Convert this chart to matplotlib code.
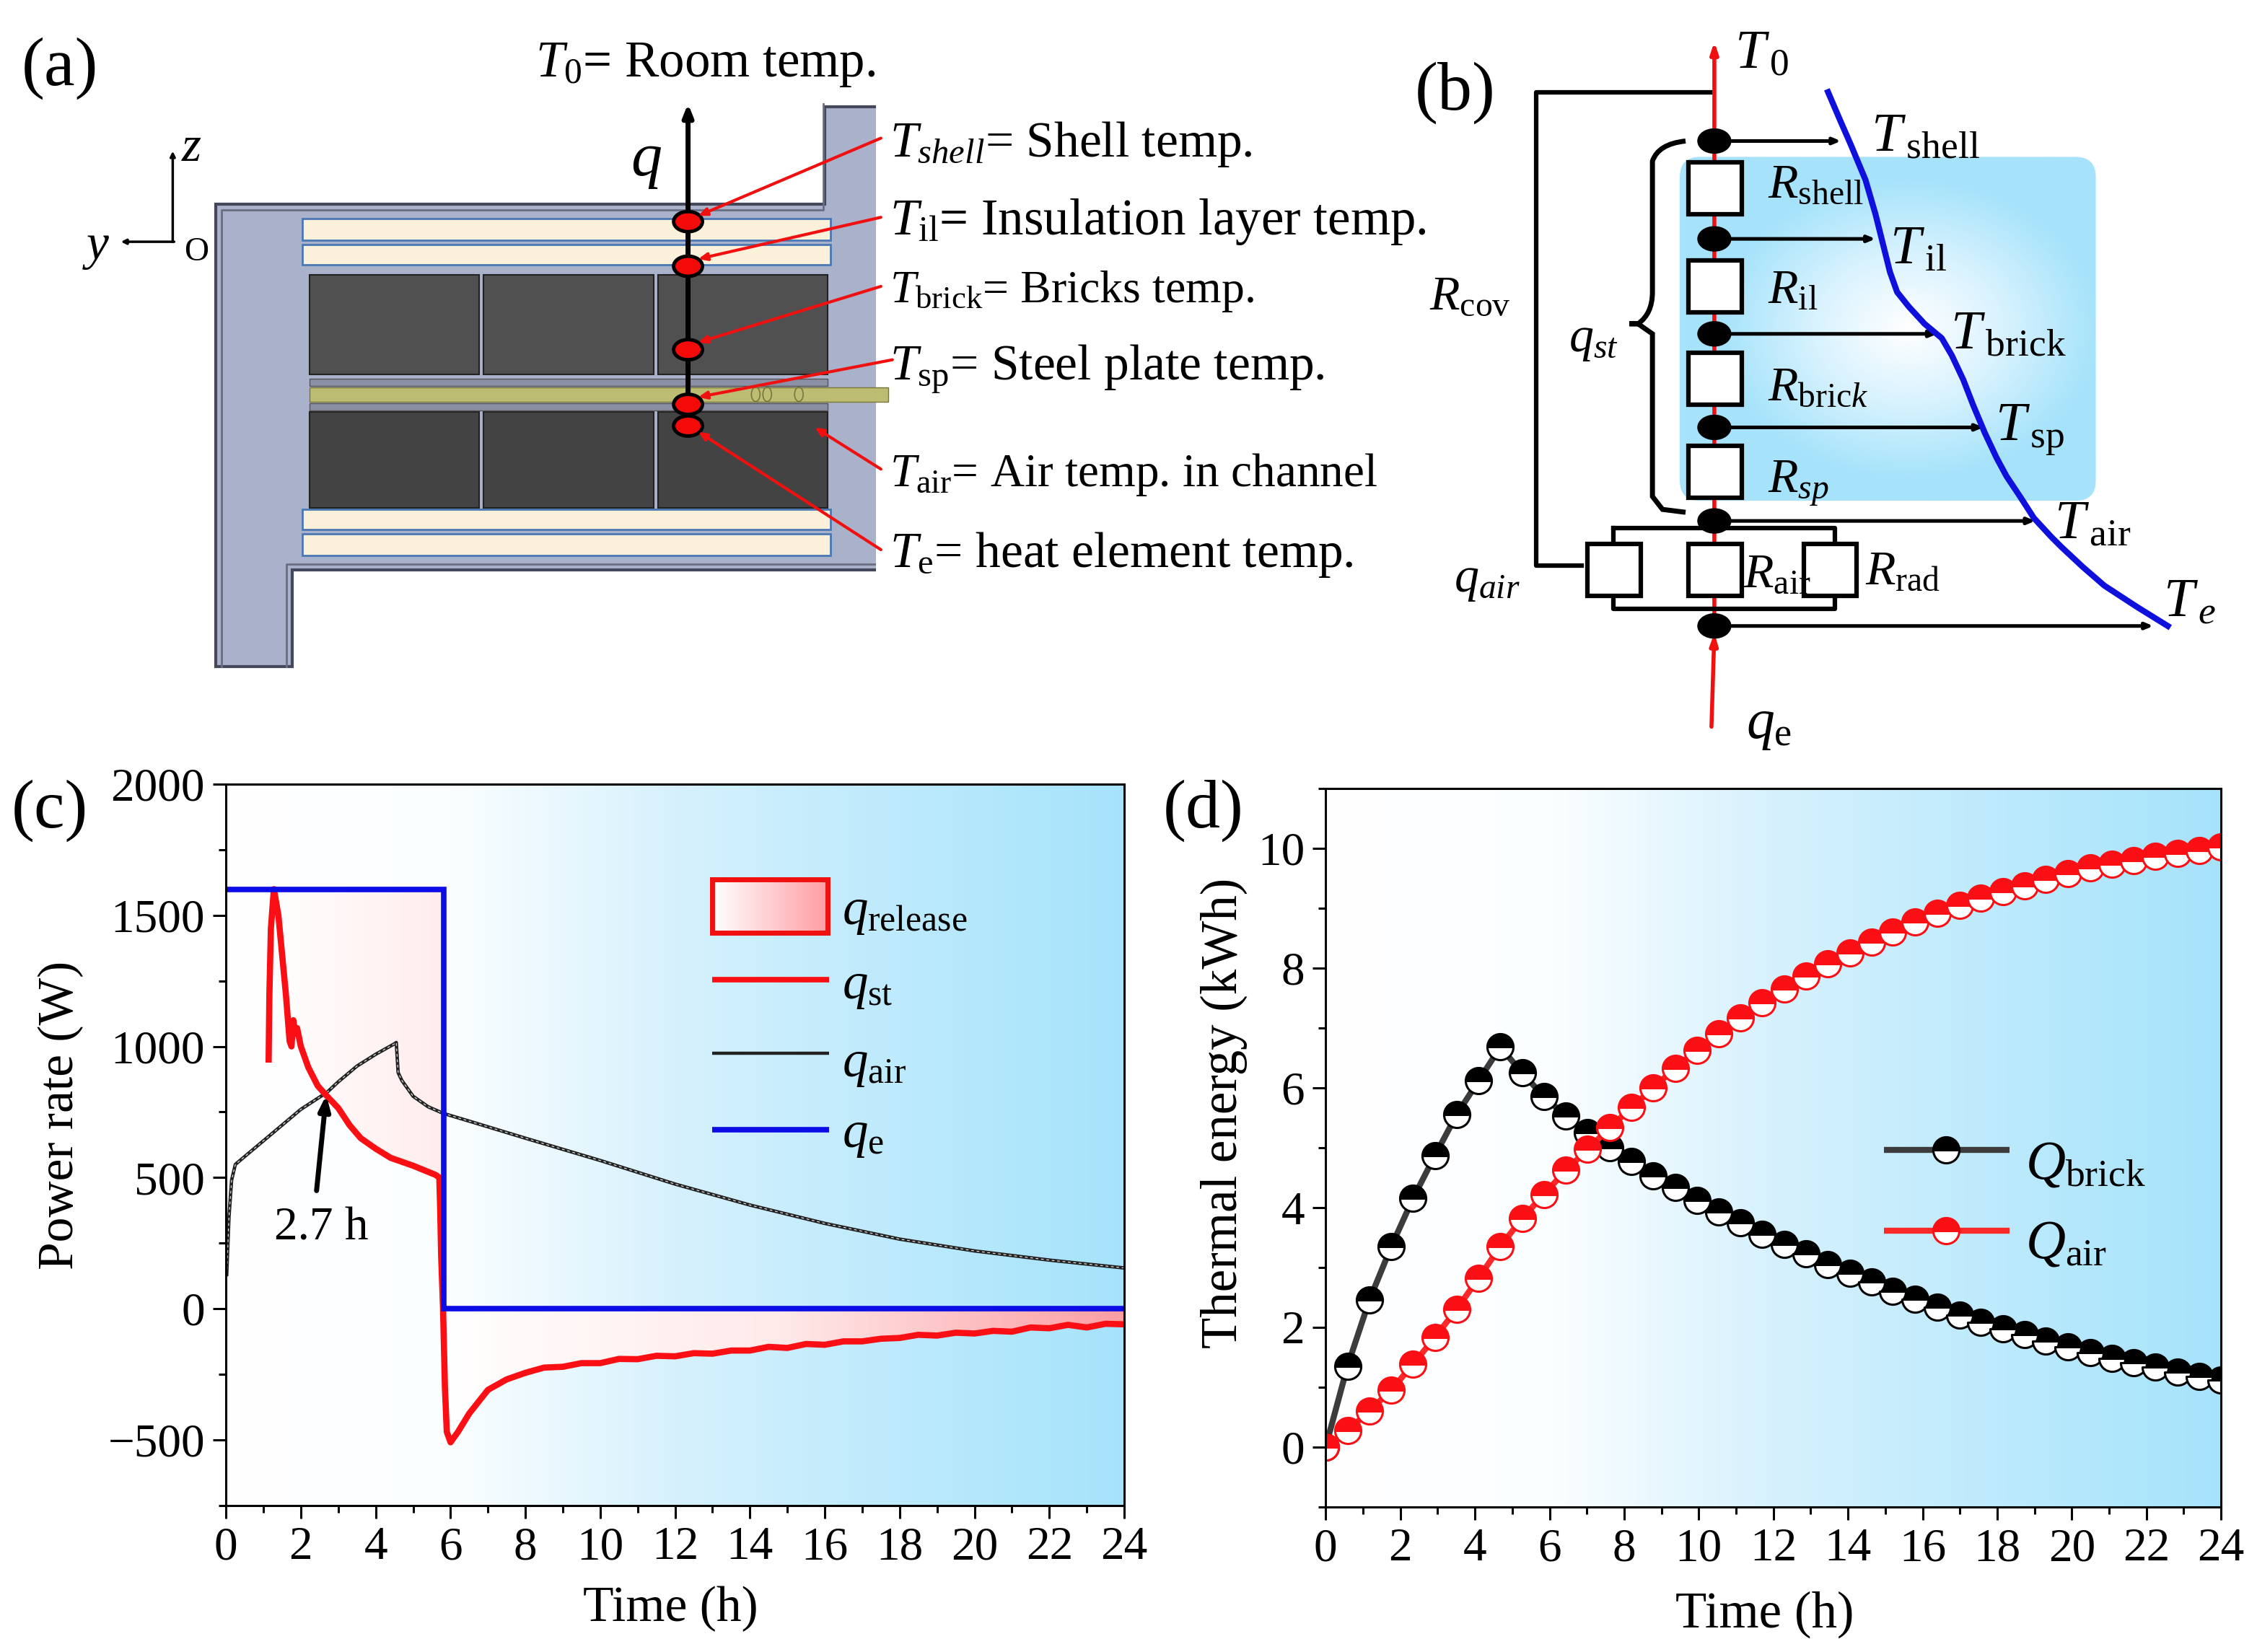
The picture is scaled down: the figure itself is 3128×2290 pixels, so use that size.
"""
Figura de cuatro paneles: esquema del equipo, red de resistencias y dos curvas vs tiempo.
"""
import matplotlib
matplotlib.use("Agg")
import numpy as np
import matplotlib.pyplot as plt
from matplotlib.colors import LinearSegmentedColormap
from matplotlib.patches import Rectangle, Polygon, Ellipse, FancyBboxPatch, PathPatch
from matplotlib.path import Path

plt.rcParams["font.family"] = ["Liberation Serif", "DejaVu Serif"]
plt.rcParams["mathtext.fontset"] = "custom"
plt.rcParams["mathtext.rm"] = "Liberation Serif"
plt.rcParams["mathtext.it"] = "Liberation Serif:italic"
plt.rcParams["mathtext.bf"] = "Liberation Serif:bold"

# ---- panel (c)
t_e = [0, 5.82, 5.82, 24]
q_e = [1600, 1600, 0, 0]
t_st = [1.14, 1.16, 1.2, 1.28, 1.4, 1.5, 1.6, 1.7, 1.75, 1.8, 1.85, 1.9, 2.0, 2.2, 2.45, 2.7, 3.0,
        3.3, 3.6, 4.0, 4.4, 5.0, 5.6, 5.7, 5.72, 5.75, 5.8, 5.85, 5.9, 6.0, 6.2, 6.5, 7.0, 7.5, 8,
        8.5, 9, 9.5, 10, 10.5, 11, 11.5, 12, 12.5, 13, 13.5, 14, 14.5, 15, 15.5, 16, 16.5, 17, 17.5,
        18, 18.5, 19, 19.5, 20, 20.5, 21, 21.5, 22, 22.5, 23, 23.5, 24]
q_st = [950, 1200, 1450, 1600, 1500, 1350, 1200, 1020, 1000, 1100, 1050, 1070, 1000, 920, 850, 810, 765,
        700, 650, 610, 575, 545, 510, 500, 400, 200, 0, -300, -470, -510, -470, -400, -310, -270, -245,
        -225, -222, -208, -208, -192, -193, -180, -182, -170, -172, -160, -160, -146, -150, -135, -138, -125,
        -125, -115, -112, -100, -103, -92, -95, -85, -88, -72, -75, -62, -72, -58, -60]
t_air = [0.02, 0.08, 0.15, 0.25, 0.5, 1, 2, 2.7, 3, 3.5, 4, 4.5, 4.55, 4.6, 4.7, 5, 5.4, 5.8,
         6.5, 8, 10, 12, 14, 16, 18, 20, 22, 24]
q_air = [130, 350, 490, 550, 580, 640, 760, 825, 865, 925, 970, 1010, 1015, 900, 870, 810, 770, 745,
         715, 650, 565, 475, 395, 325, 265, 220, 185, 155]

# ---- panel (d)
t_q = [0, 0.585, 1.17, 1.76, 2.34, 2.93, 3.51, 4.1, 4.68, 5.27, 5.85, 6.44, 7.02, 7.61, 8.2, 8.78,
       9.37, 9.95, 10.54, 11.12, 11.7, 12.3, 12.88, 13.46, 14.05, 14.63, 15.2, 15.8, 16.4, 17.0,
       17.56, 18.15, 18.73, 19.3, 19.9, 20.5, 21.07, 21.66, 22.24, 22.83, 23.41, 24]
Q_brick = [0, 1.35, 2.45, 3.35, 4.15, 4.87, 5.55, 6.12, 6.68, 6.25, 5.85, 5.53, 5.25, 5.0, 4.77, 4.53,
           4.33, 4.12, 3.93, 3.75, 3.55, 3.38, 3.22, 3.05, 2.9, 2.75, 2.6, 2.47, 2.33, 2.2,
           2.08, 1.97, 1.87, 1.77, 1.67, 1.57, 1.48, 1.4, 1.33, 1.25, 1.18, 1.12]
Q_air = [0, 0.27, 0.6, 0.95, 1.38, 1.83, 2.3, 2.82, 3.35, 3.82, 4.22, 4.62, 4.97, 5.33, 5.67, 6.0,
         6.33, 6.63, 6.9, 7.17, 7.42, 7.65, 7.87, 8.07, 8.25, 8.43, 8.6, 8.77, 8.92, 9.05,
         9.17, 9.28, 9.38, 9.48, 9.58, 9.67, 9.73, 9.8, 9.87, 9.92, 9.97, 10.03]

# ---- panel (a): geometria del esquema, en px de la imagen a media escala
housing = [(150, 142), (573, 142), (573, 74), (612, 74), (612, 396), (203, 396), (203, 463), (150, 463)]
insul_rects = [(210, 152, 367, 15), (210, 170, 367, 14), (210, 354, 367, 14), (210, 371, 367, 15)]
brick_rects = [(215, 191, 118, 69), (336, 191, 118, 69), (457, 191, 118, 69),
               (215, 286, 118, 67), (336, 286, 118, 67), (457, 286, 118, 67)]
dots_a = [154, 185, 243, 281, 296]
red_arrows = [((612, 96), (485, 150)), ((612, 151), (485, 180)), ((612, 199), (485, 238)),
              ((620, 250), (485, 276)), ((612, 326), (566, 297)), ((612, 382), (485, 300))]
labels_a = [(372, 53, r"$T_{0}$= Room temp."),
            (618, 109, r"$T_{shell}$= Shell temp."),
            (618, 163, r"$T_{\mathrm{il}}$= Insulation layer temp."),
            (618, 210, r"$T_{\mathrm{brick}}$= Bricks temp."),
            (618, 264, r"$T_{\mathrm{sp}}$= Steel plate temp."),
            (618, 338, r"$T_{\mathrm{air}}$= Air temp. in channel"),
            (618, 394, r"$T_{\mathrm{e}}$= heat element temp.")]
sizes_a = [51, 50, 51, 46, 50, 47, 50]

# ---- panel (b)
node_y = [98, 166, 232, 297, 362, 435]
arrow_end = [1279, 1303, 1346, 1378, 1414, 1496]
res_boxes = [(1173, 113), (1173, 181), (1173, 245), (1173, 310), (1103, 378), (1173, 378), (1253, 378)]
curve_x = [1270, 1279, 1286, 1296, 1303, 1308, 1313, 1318, 1326, 1337, 1349, 1356, 1364, 1371, 1379,
           1387, 1394, 1404, 1413, 1425, 1432, 1447, 1462, 1485, 1506]
curve_y = [64, 85, 101, 125, 149, 169, 189, 203, 213, 225, 235, 247, 264, 282, 301,
           318, 331, 346, 360, 373, 380, 394, 407, 422, 435]
labels_t = [(1205, 47, r"$T_{\,0}$"), (1300, 105, r"$T_{\,\mathrm{shell}}$"), (1313, 183, r"$T_{\,\mathrm{il}}$"),
            (1355, 242, r"$T_{\,\mathrm{brick}}$"), (1386, 306, r"$T_{\,\mathrm{sp}}$"),
            (1427, 374, r"$T_{\,\mathrm{air}}$"), (1503, 428, r"$T_{\,e}$")]
labels_b = [(1228, 137, r"$R_{\mathrm{shell}}$"), (1228, 211, r"$R_{\mathrm{il}}$"),
            (1228, 278, r"$R_{\mathrm{bric}k}$"), (1228, 342, r"$R_{sp}$"),
            (1211, 408, r"$R_{\mathrm{air}}$"), (1296, 406, r"$R_{\mathrm{rad}}$"),
            (1010, 411, r"$q_{air}$"), (1090, 244, r"$q_{st}$"), (993, 215, r"$R_{\mathrm{cov}}$")]
brace_verts = [(1171, 98), (1152, 100), (1148, 112), (1148, 125), (1148, 203), (1148, 218), (1138, 225), (1126, 225),
               (1138, 225), (1148, 232), (1148, 247), (1148, 325), (1148, 345), (1155, 354), (1171, 356)]

BG_BLUE = "#a6e3fb"
bg_cmap = LinearSegmentedColormap.from_list("bg", ["#ffffff", "#fbfeff", "#d6f1fd", "#bdeafc", BG_BLUE],)
FS_TICK = 47
FS_LABEL = 50
FS_DIAG = 49
W, H = 1568.0, 1148.0


def fondo(ax, xlim, ylim):
    grad = np.linspace(0, 1, 400).reshape(1, -1)
    ax.imshow(grad, cmap=bg_cmap, aspect="auto", extent=[xlim[0], xlim[1], ylim[0], ylim[1]], zorder=0)
    ax.set_xlim(xlim)
    ax.set_ylim(ylim)


def estilo(ax):
    ax.set_xticks(np.arange(0, 25, 2))
    ax.set_xticks(np.arange(0, 25, 1), minor=True)
    ax.tick_params(which="major", direction="out", length=13, width=2.2, labelsize=FS_TICK, pad=8)
    ax.tick_params(which="minor", direction="out", length=7, width=2.2)
    for s in ax.spines.values():
        s.set_linewidth(2.2)
        s.set_zorder(8)


fig = plt.figure(figsize=(31.28, 22.9), dpi=100)


def caja(x0, y0, x1, y1):
    return [x0 / W, 1 - y1 / H, (x1 - x0) / W, (y1 - y0) / H]


# ---- (c)
ax_c = fig.add_axes(caja(157, 545, 781, 1046))
fondo(ax_c, (0, 24), (-750, 2000))
pink_cmap = LinearSegmentedColormap.from_list("pink", ["#ffffff", "#ffe9e9", "#fd9ea3"])
t_fill = np.array(t_st)
q_fill = np.array(q_st)

# relleno q_release, por encima (hasta q_e) y por debajo (hasta 0)
sup = t_fill <= 5.8
verts_up = list(zip(t_fill[sup], q_fill[sup])) + [(5.82, 1600), (1.28, 1600)]
inf = t_fill >= 5.8
verts_dn = list(zip(t_fill[inf], q_fill[inf])) + [(24, 0), (5.82, 0)]
grad_up = np.linspace(0, 0.42, 100).reshape(1, -1)
img = ax_c.imshow(grad_up, cmap=pink_cmap, vmin=0, vmax=1, aspect="auto", extent=[1.14, 5.82, -750, 2000], zorder=1)
pol = Polygon(verts_up, closed=True, transform=ax_c.transData, fc="none", ec="none")
ax_c.add_patch(pol)
img.set_clip_path(pol)
grad_dn = np.linspace(0, 1, 200).reshape(1, -1)
img = ax_c.imshow(grad_dn, cmap=pink_cmap, vmin=0, vmax=1, aspect="auto", extent=[5.82, 24, -750, 2000], zorder=1)
pol = Polygon(verts_dn, closed=True, transform=ax_c.transData, fc="none", ec="none")
ax_c.add_patch(pol)
img.set_clip_path(pol)
ax_c.set_xlim(0, 24)
ax_c.set_ylim(-750, 2000)

ax_c.plot(t_air, q_air, color="#222222", lw=3.4, zorder=3)
ax_c.plot(t_air, q_air, color="#dddddd", lw=0.9, zorder=3, ls=(0, (3, 3)))
ax_c.plot(t_st, q_st, color="#fa0f14", lw=6.2, zorder=4)
ax_c.plot(t_e, q_e, color="#0c0ce6", lw=5.5, zorder=5, solid_joinstyle="miter")
ax_c.annotate("", xy=(2.68, 815), xytext=(2.42, 450),
              arrowprops=dict(arrowstyle="-|>,head_length=1.2,head_width=0.45", color="black", lw=5, shrinkA=0, shrinkB=0),
              zorder=6)
ax_c.text(1.28, 262, "2.7 h", fontsize=FS_TICK, va="baseline", zorder=6)
ax_c.set_yticks([-500, 0, 500, 1000, 1500, 2000])
ax_c.set_yticks(np.arange(-750, 2001, 250), minor=True)
estilo(ax_c)
ax_c.set_xlabel("Time (h)", fontsize=FS_LABEL)
ax_c.xaxis.set_label_coords(0.495, -0.112)
ax_c.set_ylabel("Power rate (W)", fontsize=FS_LABEL)
ax_c.yaxis.set_label_coords(-0.158, 0.541)

# ---- (d)
ax_d = fig.add_axes(caja(921, 548, 1543, 1047))
fondo(ax_d, (0, 24), (-1, 11))
mk = dict(marker="o", ms=26, fillstyle="top", markerfacecoloralt="white", markeredgewidth=2.2)
ax_d.plot(t_q, Q_brick, color="#3c3c3c", lw=6, zorder=3)
ax_d.plot(t_q, Q_brick, ls="none", color="black", mfc="black", mec="black", zorder=4, **mk)
ax_d.plot(t_q, Q_air, color="#fa2a2a", lw=6, zorder=5)
ax_d.plot(t_q, Q_air, ls="none", color="#fa0f14", mfc="#fa0f14", mec="#fa0f14", zorder=6, **mk)
ax_d.set_yticks([0, 2, 4, 6, 8, 10])
ax_d.set_yticks(np.arange(-1, 12, 1), minor=True)
estilo(ax_d)
ax_d.set_xlabel("Time (h)", fontsize=FS_LABEL + 1)
ax_d.xaxis.set_label_coords(0.49, -0.118)
ax_d.set_ylabel("Thermal energy (kWh)", fontsize=51)
ax_d.yaxis.set_label_coords(-0.087, 0.548)

# ---- capa general en px para los esquemas y las leyendas
ov = fig.add_axes([0, 0, 1, 1], zorder=10)
ov.patch.set_alpha(0)
ov.axis("off")

# panel (a)
ov.add_patch(Polygon(housing, closed=True, fc="#aab1ca", ec="#45485a", lw=3, zorder=1))
ov.plot([572, 572, 154, 154], [72, 146, 146, 463], color="#6a6e82", lw=2, zorder=1)
ov.plot([199, 199, 612], [463, 392, 392], color="#6a6e82", lw=2, zorder=1)
for x, y, w, h in insul_rects:
    ov.add_patch(Rectangle((x, y), w, h, fc="#fbf0da", ec="#4a78b4", lw=2, zorder=2))
for i, (x, y, w, h) in enumerate(brick_rects):
    ov.add_patch(Rectangle((x, y), w, h, fc="#505050" if i < 3 else "#434343", ec="#222222", lw=1.5, zorder=2))
ov.add_patch(Rectangle((215, 263), 360, 5, fc="#8b90a4", ec="#555555", lw=1, zorder=2))
ov.add_patch(Rectangle((215, 280), 360, 5, fc="#8b90a4", ec="#555555", lw=1, zorder=2))
ov.add_patch(Rectangle((215, 269), 402, 10, fc="#bcbc72", ec="#77773c", lw=1, zorder=3))
for xc in [525, 533, 555]:
    ov.add_patch(Ellipse((xc, 274), 6, 10, fc="none", ec="#77773c", lw=1.2, zorder=3))
ov.plot([612, 612], [74, 396], color="white", lw=10, zorder=2)
ov.annotate("", xy=(478, 72), xytext=(478, 296),
            arrowprops=dict(arrowstyle="-|>,head_length=1.0,head_width=0.4", color="black", lw=5, shrinkA=0, shrinkB=0), zorder=4)
for y in dots_a:
    ov.add_patch(Ellipse((478, y), 20, 14, fc="#f50a0a", ec="black", lw=3.5, zorder=5))
for ini, fin in red_arrows:
    ov.annotate("", xy=fin, xytext=ini,
                arrowprops=dict(arrowstyle="-|>,head_length=0.7,head_width=0.3", color="#f01010", lw=3, shrinkA=0, shrinkB=0), zorder=6)
for (x, y, s), fs in zip(labels_a, sizes_a):
    ov.text(x, y, s, fontsize=fs, va="baseline", zorder=7)
ov.text(438, 122, r"$q$", fontsize=62, va="baseline", zorder=7)
ov.annotate("", xy=(120, 105), xytext=(120, 168), arrowprops=dict(arrowstyle="-|>", color="black", lw=2.5, shrinkA=0, shrinkB=0))
ov.annotate("", xy=(84, 168), xytext=(121, 168), arrowprops=dict(arrowstyle="-|>", color="black", lw=2.5, shrinkA=0, shrinkB=0))
ov.text(126, 112, r"$z$", fontsize=50, va="baseline")
ov.text(57, 180, r"$y$", fontsize=50, va="baseline")
ov.text(128, 181, "O", fontsize=34, va="baseline")
ov.text(15, 59, "(a)", fontsize=69, va="baseline")

# panel (b): fondo radial con esquinas redondeadas
yy, xx = np.mgrid[-1:1:200j, -1:1:300j]
rad = np.clip(np.hypot((xx - 0.1) * 1.1, yy * 1.15), 0, 1)
grad_b = ov.imshow(rad, cmap=LinearSegmentedColormap.from_list("rb", ["#ffffff", "#d8f2fe", BG_BLUE]),
                   extent=[1167, 1456, 348, 109], aspect="auto", zorder=1)
box = FancyBboxPatch((1175, 117), 273, 223, boxstyle="round,pad=8,rounding_size=14", fc="none", ec="none", zorder=1)
ov.add_patch(box)
grad_b.set_clip_path(box)

ov.annotate("", xy=(1191, 29), xytext=(1191, 440),
            arrowprops=dict(arrowstyle="-|>,head_length=0.9,head_width=0.3", color="#f01010", lw=4, shrinkA=0, shrinkB=0), zorder=2)
ov.annotate("", xy=(1191, 440), xytext=(1189, 505),
            arrowprops=dict(arrowstyle="-|>,head_length=0.9,head_width=0.3", color="#f01010", lw=4, shrinkA=0, shrinkB=0), zorder=2)
ov.plot([1188, 1067, 1067, 1099], [64, 64, 393, 393], color="black", lw=4.5, zorder=3)
ov.plot([1121, 1275, 1275, 1121, 1121], [367, 367, 423, 423, 367], color="black", lw=4.5, zorder=3)
for x, y in res_boxes:
    ov.add_patch(Rectangle((x, y), 37, 36, fc="white", ec="black", lw=4.5, zorder=4))
for y, xf in zip(node_y, arrow_end):
    ov.add_patch(Ellipse((1191, y), 23, 17, fc="black", ec="black", zorder=5))
    ov.annotate("", xy=(xf, y), xytext=(1195, y),
                arrowprops=dict(arrowstyle="-|>,head_length=0.6,head_width=0.25", color="black", lw=3.6, shrinkA=0, shrinkB=0), zorder=5)
ov.plot(curve_x, curve_y, color="#1010dd", lw=6, zorder=6)
codes = [Path.MOVETO] + [Path.CURVE3, Path.CURVE3] + [Path.LINETO] + [Path.LINETO] + [Path.CURVE3, Path.CURVE3] + \
        [Path.CURVE3, Path.CURVE3] + [Path.LINETO, Path.LINETO] + [Path.CURVE3, Path.CURVE3] + [Path.LINETO, Path.LINETO]
ov.add_patch(PathPatch(Path(brace_verts, codes), fc="none", ec="black", lw=5, zorder=3))
for x, y, s in labels_t:
    ov.text(x, y, s, fontsize=55, va="baseline", zorder=7)
for x, y, s in labels_b:
    ov.text(x, y, s, fontsize=FS_DIAG, va="baseline", zorder=7)
ov.text(1213, 513, r"$q_{\mathrm{e}}$", fontsize=56, va="baseline", zorder=7)
ov.text(983, 76, "(b)", fontsize=69, va="baseline")

# leyenda (c)
leg = ov.imshow(np.linspace(0, 1, 100).reshape(1, -1),
                cmap=LinearSegmentedColormap.from_list("lg", ["#ffffff", "#fd9ea3"]),
                extent=[495, 575, 648, 611], aspect="auto", zorder=4)
ov.add_patch(Rectangle((495, 611), 80, 37, fc="none", ec="#f01010", lw=5, zorder=5))
ov.plot([495, 576], [681, 681], color="#fa0f14", lw=5.5, zorder=5, solid_capstyle="butt")
ov.plot([495, 576], [732, 732], color="#222222", lw=3.2, zorder=5, solid_capstyle="butt")
ov.plot([495, 576], [785, 785], color="#0c0ce6", lw=5.5, zorder=5, solid_capstyle="butt")
for y, s in [(642, r"$q_{\mathrm{release}}$"), (694, r"$q_{\mathrm{st}}$"),
             (748, r"$q_{\mathrm{air}}$"), (797, r"$q_{\mathrm{e}}$")]:
    ov.text(585, y, s, fontsize=FS_DIAG + 2, va="baseline", zorder=6)

# leyenda (d)
ov.plot([1309, 1396], [799, 799], color="#3c3c3c", lw=6, zorder=5, solid_capstyle="butt")
ov.plot([1352], [799], ls="none", color="black", mfc="black", mec="black", zorder=6, **mk)
ov.plot([1309, 1396], [855, 855], color="#fa2a2a", lw=6, zorder=5, solid_capstyle="butt")
ov.plot([1352], [855], ls="none", color="#fa0f14", mfc="#fa0f14", mec="#fa0f14", zorder=6, **mk)
ov.text(1407, 819, r"$Q_{\mathrm{brick}}$", fontsize=55, va="baseline", zorder=6)
ov.text(1407, 874, r"$Q_{\mathrm{air}}$", fontsize=55, va="baseline", zorder=6)

ov.text(8, 575, "(c)", fontsize=69, va="baseline")
ov.text(808, 575, "(d)", fontsize=69, va="baseline")
ov.set_xlim(0, W)
ov.set_ylim(H, 0)

fig.savefig("out.png", dpi=100, facecolor="white")
